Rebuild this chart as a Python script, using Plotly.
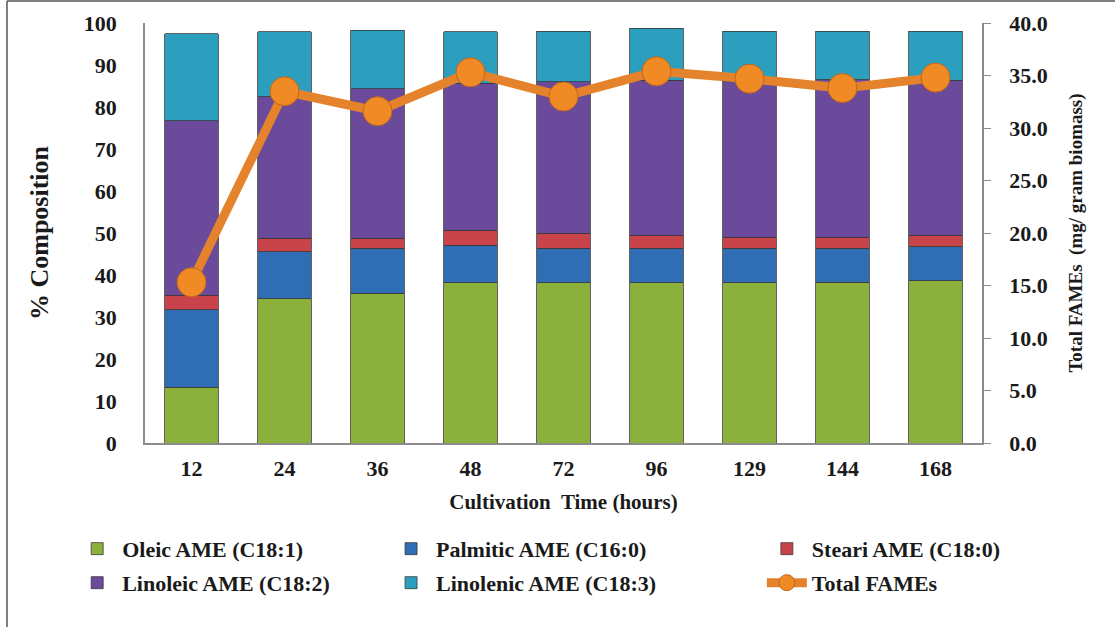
import plotly.graph_objects as go

hours = ["12", "24", "36", "48", "72", "96", "129", "144", "168"]
oleic = [13.3, 34.3, 35.7, 38.1, 38.1, 38.1, 38.1, 38.3, 38.6]
palmitic = [18.4, 11.2, 10.7, 9.0, 8.3, 8.3, 8.3, 8.1, 8.1]
stearic = [3.5, 3.3, 2.4, 3.6, 3.6, 3.1, 2.6, 2.6, 2.8]
linoleic = [41.5, 33.6, 35.5, 35.0, 36.0, 36.9, 37.0, 37.5, 36.9]
linolenic = [20.7, 15.5, 14.0, 12.2, 12.0, 12.4, 12.0, 11.5, 11.6]
total_fames = [15.3, 33.5, 31.6, 35.3, 33.0, 35.4, 34.7, 33.8, 34.8]

names = ["Oleic AME (C18:1)", "Palmitic AME (C16:0)", "Steari AME (C18:0)",
         "Linoleic AME (C18:2)", "Linolenic AME (C18:3)"]
colors = ["#8BB03C", "#2F6DB5", "#C8434A", "#6B4A9C", "#2C9EBE"]
series = [oleic, palmitic, stearic, linoleic, linolenic]

FONT = "Liberation Serif, Times New Roman, serif"

# legend positions (paper coords): col x, row y
leg_pos = [(-0.087, -0.252), (0.288, -0.252), (0.737, -0.252),
           (-0.087, -0.333), (0.288, -0.333), (0.737, -0.333)]
leg_ids = ["legend", "legend2", "legend3", "legend4", "legend5", "legend6"]

fig = go.Figure()
for i, (nm, col, vals) in enumerate(zip(names, colors, series)):
    fig.add_trace(go.Bar(
        x=hours, y=vals, name=nm,
        marker=dict(color=col, line=dict(color="#3a3a3a", width=0.8)),
        legend=leg_ids[i],
    ))

fig.add_trace(go.Scatter(
    x=hours, y=total_fames, name="Total FAMEs", yaxis="y2",
    mode="lines+markers",
    line=dict(color="#E5832C", width=9),
    marker=dict(size=29, color="#F08A24", line=dict(color="#C0661A", width=1)),
    legend=leg_ids[5],
))

layout_legends = {}
for lid, (lx, ly) in zip(leg_ids, leg_pos):
    layout_legends[lid] = dict(
        x=lx, y=ly, xanchor="left", yanchor="middle",
        bgcolor="rgba(0,0,0,0)",
        font=dict(family=FONT, size=22, color="#1a1a1a", weight="bold"),
        itemwidth=40,
    )

fig.update_layout(
    width=1115, height=627,
    margin=dict(l=145, r=133, t=23, b=184, autoexpand=False),
    paper_bgcolor="white", plot_bgcolor="white",
    barmode="stack", bargap=0.42,
    font=dict(family=FONT, color="#1a1a1a"),
    showlegend=True,
    xaxis=dict(
        range=[-0.5, len(hours) - 0.5],
        showline=True, linecolor="#8c8c8c", linewidth=1.5,
        ticks="", showgrid=False, automargin=False, ticklabelstandoff=5,
        tickfont=dict(family=FONT, size=22, weight="bold"),
        title=dict(text="Cultivation  Time (hours)",
                   font=dict(family=FONT, size=21, weight="bold"), standoff=14),
    ),
    yaxis=dict(
        range=[0, 100], dtick=10, showgrid=False, zeroline=False, automargin=False,
        showline=True, linecolor="#8c8c8c", linewidth=1.5,
        ticks="outside", ticklen=22, tickcolor="rgba(0,0,0,0)",
        tickfont=dict(family=FONT, size=22, weight="bold"),
        title=dict(text="% Composition",
                   font=dict(family=FONT, size=26, weight="bold"), standoff=28),
    ),
    yaxis2=dict(
        range=[0, 40], dtick=5, tickformat=".1f", overlaying="y", side="right",
        showgrid=False, zeroline=False, automargin=False,
        showline=True, linecolor="#8c8c8c", linewidth=1.5,
        ticks="outside", ticklen=7, tickcolor="#8c8c8c", ticklabelstandoff=14,
        tickfont=dict(family=FONT, size=22, weight="bold"),
        title=dict(text="Total FAMEs  (mg/ gram biomass)",
                   font=dict(family=FONT, size=19, weight="bold"), standoff=22),
    ),
    **layout_legends,
)

# outer frame lines (left and top)
fig.add_shape(type="line", xref="paper", yref="paper",
              x0=-0.1649, x1=-0.1649, y0=1.0524, y1=-0.45,
              line=dict(color="#555555", width=1.5))
fig.add_shape(type="line", xref="paper", yref="paper",
              x0=-0.1649, x1=1.2, y0=1.0524, y1=1.0524,
              line=dict(color="#555555", width=1.5))

fig.write_html("out.html", config={"displayModeBar": False},
               post_script="document.body.style.margin='0';")
